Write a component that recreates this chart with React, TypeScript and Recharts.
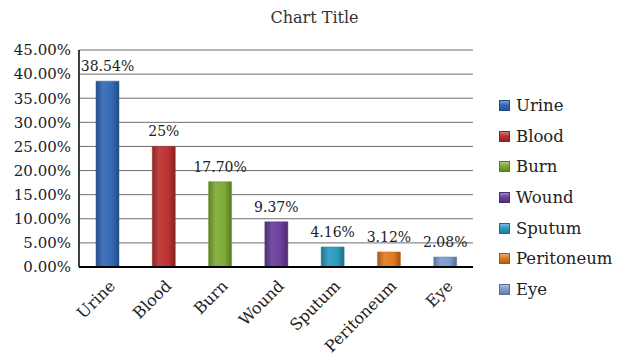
import { BarChart, Bar, XAxis, YAxis, CartesianGrid, Cell, LabelList } from 'recharts'

const categories = ['Urine', 'Blood', 'Burn', 'Wound', 'Sputum', 'Peritoneum', 'Eye']
const values = [38.54, 25, 17.7, 9.37, 4.16, 3.12, 2.08]
const valueLabels = ['38.54%', '25%', '17.70%', '9.37%', '4.16%', '3.12%', '2.08%']
const yTicks = [0, 5, 10, 15, 20, 25, 30, 35, 40, 45]
const colors = ['#3469b8', '#bd3131', '#7dab36', '#6a3f9a', '#2a9bc0', '#e27a22', '#7c9dd0']

const FONT = '"DejaVu Serif", serif'

const data = categories.map((name, i) => ({ name, value: values[i], label: valueLabels[i] }))

// lighten / darken a hex colour
function shade(hex: string, amt: number) {
  const n = parseInt(hex.slice(1), 16)
  const f = (c: number) => Math.max(0, Math.min(255, Math.round(amt >= 0 ? c + (255 - c) * amt : c * (1 + amt))))
  const r = f(n >> 16), g = f((n >> 8) & 255), b = f(n & 255)
  return `rgb(${r},${g},${b})`
}

function AngledTick({ x, y, payload }: { x?: number; y?: number; payload?: { value: string } }) {
  const tx = (x ?? 0) + 9
  const ty = (y ?? 0) + 12
  return (
    <text
      x={tx}
      y={ty}
      transform={`rotate(-45, ${tx}, ${ty})`}
      textAnchor="end"
      fill="#222"
      fontSize={16}
      fontFamily={FONT}
    >
      {payload?.value}
    </text>
  )
}

function SideLegend() {
  return (
    <div style={{ position: 'absolute', left: 499, top: 90, fontFamily: FONT, fontSize: 16.5, color: '#222' }}>
      {categories.map((c, i) => (
        <div key={c} style={{ display: 'flex', alignItems: 'center', height: 30.7 }}>
          <span
            style={{
              display: 'inline-block',
              width: 9,
              height: 9,
              marginRight: 6,
              background: `linear-gradient(180deg, ${shade(colors[i], 0.35)} 0%, ${colors[i]} 45%, ${shade(colors[i], -0.2)} 100%)`,
              border: `1px solid ${shade(colors[i], -0.3)}`,
            }}
          />
          {c}
        </div>
      ))}
    </div>
  )
}

export default function App() {
  return (
    <div style={{ position: 'absolute', left: 0, top: 0, width: 621, height: 356, background: '#fff' }}>
      <div
        style={{
          position: 'absolute',
          top: 8,
          left: 0,
          width: 621,
          textAlign: 'center',
          fontFamily: FONT,
          fontSize: 16,
          color: '#333',
          paddingLeft: 4,
        }}
      >
        Chart Title
      </div>
      <BarChart
        width={621}
        height={356}
        data={data}
        margin={{ top: 50, right: 148, bottom: 9, left: 9 }}
      >
        <defs>
          {colors.map((c, i) => (
            <linearGradient key={i} id={`g${i}`} x1="0" y1="0" x2="1" y2="0">
              <stop offset="0%" stopColor={shade(c, -0.25)} />
              <stop offset="30%" stopColor={shade(c, 0.08)} />
              <stop offset="70%" stopColor={c} />
              <stop offset="100%" stopColor={shade(c, -0.3)} />
            </linearGradient>
          ))}
        </defs>
        <CartesianGrid vertical={false} stroke="#6e6e6e" strokeWidth={1} />
        <XAxis
          dataKey="name"
          interval={0}
          height={80}
          tickLine={false}
          axisLine={{ stroke: '#000', strokeWidth: 2 }}
          tick={<AngledTick />}
        />
        <YAxis
          width={70}
          domain={[0, 45]}
          ticks={yTicks}
          interval={0}
          tickLine={false}
          tickMargin={2}
          axisLine={{ stroke: '#000', strokeWidth: 1.5 }}
          tickFormatter={(v: number) => `${v.toFixed(2)}%`}
          tick={{ fill: '#222', fontSize: 15, fontFamily: FONT }}
        />
        <Bar dataKey="value" barSize={23} isAnimationActive={false}>
          {data.map((d, i) => (
            <Cell key={d.name} fill={`url(#g${i})`} stroke={shade(colors[i], -0.15)} strokeWidth={0.5} />
          ))}
          <LabelList
            dataKey="label"
            position="top"
            offset={10}
            fill="#222"
            fontSize={14}
            fontFamily={FONT}
          />
        </Bar>
      </BarChart>
      <SideLegend />
    </div>
  )
}
